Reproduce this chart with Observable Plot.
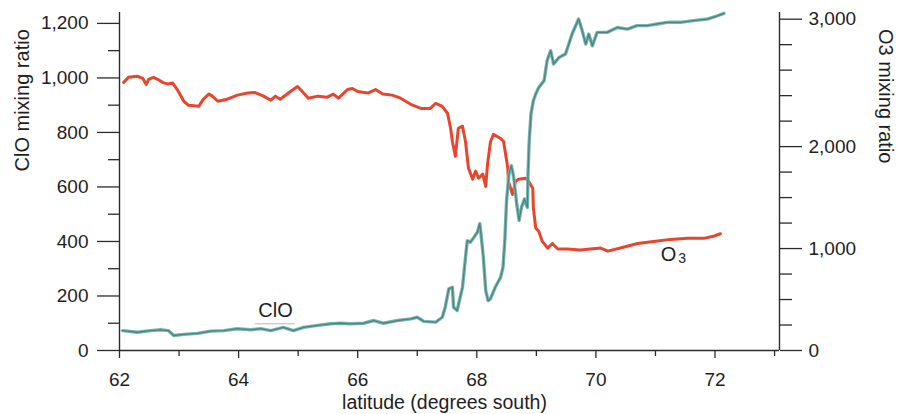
<!DOCTYPE html>
<html>
<head>
<meta charset="utf-8">
<script src="https://cdn.jsdelivr.net/npm/d3@7"></script>
<script src="https://cdn.jsdelivr.net/npm/@observablehq/plot@0.6"></script>
<style>
  html, body { margin: 0; padding: 0; background: #fff; }
  svg { display: block; }
</style>
</head>
<body>
<div id="chart"></div>
<script>
// ---- data ----
const o3Lat = [62.07,62.15,62.30,62.39,62.45,62.49,62.57,62.64,62.74,62.82,
  62.89,62.97,63.08,63.16,63.33,63.41,63.50,63.56,63.65,63.81,
  63.98,64.15,64.28,64.42,64.54,64.62,64.70,64.87,64.99,65.07,
  65.17,65.33,65.49,65.59,65.68,65.83,65.91,66.00,66.17,66.30,
  66.42,66.58,66.72,66.89,67.06,67.22,67.31,67.42,67.51,67.56,
  67.59,67.64,67.69,67.76,67.81,67.86,67.93,67.98,68.03,68.10,
  68.15,68.18,68.23,68.28,68.40,68.45,68.52,68.53,68.60,68.65,
  68.70,68.82,68.87,68.94,68.95,68.99,69.04,69.10,69.19,69.27,
  69.36,69.52,69.74,69.91,70.08,70.20,70.41,70.70,70.97,71.25,
  71.54,71.81,71.97,72.09];
const o3Val = [2630,2680,2690,2670,2610,2660,2680,2660,2625,2615,
  2625,2560,2445,2405,2395,2465,2515,2495,2445,2465,
  2505,2525,2530,2495,2455,2495,2465,2540,2590,2540,
  2475,2495,2485,2515,2475,2560,2570,2540,2525,2560,
  2515,2505,2475,2415,2375,2375,2425,2395,2325,2180,
  2050,1905,2180,2200,2050,1790,1680,1760,1690,1730,
  1610,1825,2050,2120,2080,2050,1790,1660,1530,1660,
  1680,1690,1660,1590,1395,1200,1170,1070,1005,1050,
  995,995,985,995,1005,975,1005,1050,1070,1090,
  1100,1100,1120,1145];

const cloLat = [62.05,62.30,62.52,62.69,62.82,62.91,63.08,63.31,63.53,63.75,
  63.98,64.20,64.37,64.54,64.75,64.92,65.09,65.33,65.54,65.71,
  65.88,66.10,66.27,66.43,66.67,66.89,67.00,67.11,67.31,67.42,
  67.47,67.53,67.59,67.61,67.67,67.76,67.81,67.84,67.89,67.95,
  68.01,68.05,68.07,68.11,68.15,68.19,68.23,68.31,68.40,68.44,
  68.47,68.50,68.54,68.58,68.62,68.67,68.71,68.75,68.80,68.85,
  68.86,68.88,68.91,68.95,68.99,69.04,69.13,69.18,69.24,69.29,
  69.38,69.49,69.60,69.71,69.77,69.83,69.88,69.94,70.02,70.19,
  70.36,70.53,70.69,70.86,71.03,71.20,71.42,71.64,71.87,72.04,
  72.15];
const cloVal = [73,67,73,76,73,55,59,63,71,73,
  80,76,80,73,85,73,85,92,98,100,
  98,100,110,100,110,116,122,107,104,122,
  159,226,232,159,147,232,342,403,397,415,
  434,465,428,342,220,183,190,232,269,305,
  403,550,648,678,635,538,477,525,556,525,
  648,770,868,917,941,965,990,1063,1100,1051,
  1075,1088,1161,1216,1173,1124,1161,1118,1167,1167,
  1185,1179,1192,1192,1198,1204,1204,1210,1216,1228,
  1237];

// ---- ticks ----
const xMajorTicks = [62, 64, 66, 68, 70, 72];
const xMinorTicks = [63, 65, 67, 69, 71, 73];
const leftMajorTicks = [0, 200, 400, 600, 800, 1000, 1200];
const leftMinorTicks = [100, 300, 500, 700, 900, 1100];
// right (O3) axis, as drawn in the reference (top label sits one minor step high)
const rightMajorTicks = [0, 1000, 2000, 3250];
const rightMajorLabels = ["0", "1,000", "2,000", "3,000"];
const rightMinorTicks = [250, 500, 750, 1250, 1500, 1750, 2250, 2500, 2750, 3000];

// ---- annotations ----
const xDomain = [62, 73.083];
const yDomain = [0, 1240];
const o3ToLeft = 0.374;   // O3 units -> ClO axis units
const cloLabel = {lat: 64.62, val: 148, text: "ClO"};
const cloLeader = {lat1: 64.28, lat2: 64.95, val: 98};
const o3Label = {lat: 71.22, val: 352};

const font = "'Liberation Sans', Arial, Helvetica, sans-serif";
const axisColor = "#2b2b2b";

const o3Scaled = o3Val.map(v => v * o3ToLeft);
const fmt = d3.format(",");

const chart = Plot.plot({
  width: 898,
  height: 414,
  marginLeft: 119,
  marginRight: 119,
  marginTop: 12,
  marginBottom: 64,
  style: {fontFamily: font, fontSize: "19px", color: "#1e1e1e", background: "#fff"},
  x: {domain: xDomain},
  y: {domain: yDomain},
  marks: [
    // data lines
    Plot.line(o3Lat, {x: o3Lat, y: o3Scaled, stroke: "#e8452f", strokeWidth: 3, strokeLinejoin: "round"}),
    Plot.line(cloLat, {x: cloLat, y: cloVal, stroke: "#78b6b3", strokeWidth: 3.4, strokeLinejoin: "round"}),
    Plot.line(cloLat, {x: cloLat, y: cloVal, stroke: "#2f605c", strokeWidth: 1.3, strokeOpacity: 0.6, strokeLinejoin: "round"}),

    // axis lines
    Plot.ruleY([0], {stroke: axisColor, strokeWidth: 1.4}),
    Plot.ruleX([xDomain[0]], {stroke: axisColor, strokeWidth: 1.4}),
    Plot.ruleX([xDomain[1]], {stroke: axisColor, strokeWidth: 1.4}),

    // x axis
    Plot.axisX(xMajorTicks, {tickSize: 8, tickPadding: 14, tickFormat: d => String(d), stroke: axisColor, strokeWidth: 1.3, label: null, fontSize: 19}),
    Plot.axisX(xMinorTicks, {tickSize: 6, tickFormat: () => "", stroke: axisColor, strokeWidth: 1.3, label: null}),

    // left axis
    Plot.axisY(leftMajorTicks, {anchor: "left", tickSize: 22, tickPadding: 9, tickFormat: fmt, stroke: axisColor, strokeWidth: 1.3, label: null, fontSize: 19}),
    Plot.axisY(leftMinorTicks, {anchor: "left", tickSize: 11, tickFormat: () => "", stroke: axisColor, strokeWidth: 1.3, label: null}),

    // right axis (O3)
    Plot.axisY(rightMajorTicks.map(v => v * o3ToLeft), {
      anchor: "right", tickSize: 22, tickPadding: 7, stroke: axisColor, strokeWidth: 1.3, label: null, fontSize: 19,
      tickFormat: d => rightMajorLabels[rightMajorTicks.findIndex(v => Math.abs(v * o3ToLeft - d) < 1e-6)]
    }),
    Plot.axisY(rightMinorTicks.map(v => v * o3ToLeft), {anchor: "right", tickSize: 12, tickFormat: () => "", stroke: axisColor, strokeWidth: 1.3, label: null}),

    // axis titles
    Plot.text(["latitude (degrees south)"], {frameAnchor: "bottom", dx: -5, dy: 52, fontSize: 19.5, lineAnchor: "middle"}),
    Plot.text(["ClO mixing ratio"], {frameAnchor: "left", dx: -97, dy: -10, rotate: -90, fontSize: 20}),
    Plot.text(["O3 mixing ratio"], {frameAnchor: "right", dx: 106, dy: -18, rotate: 90, fontSize: 20}),

    // in-plot labels
    Plot.ruleY([cloLeader.val], {x1: cloLeader.lat1, x2: cloLeader.lat2, stroke: "#b9b9b9", strokeWidth: 1}),
    Plot.text([cloLabel.text], {x: cloLabel.lat, y: cloLabel.val, fontSize: 20}),
    Plot.text(["O"], {x: o3Label.lat, y: o3Label.val, fontSize: 20}),
    Plot.text(["3"], {x: o3Label.lat, y: o3Label.val, dx: 13.5, dy: 4, fontSize: 14})
  ]
});

document.getElementById("chart").appendChild(chart);
</script>
</body>
</html>
